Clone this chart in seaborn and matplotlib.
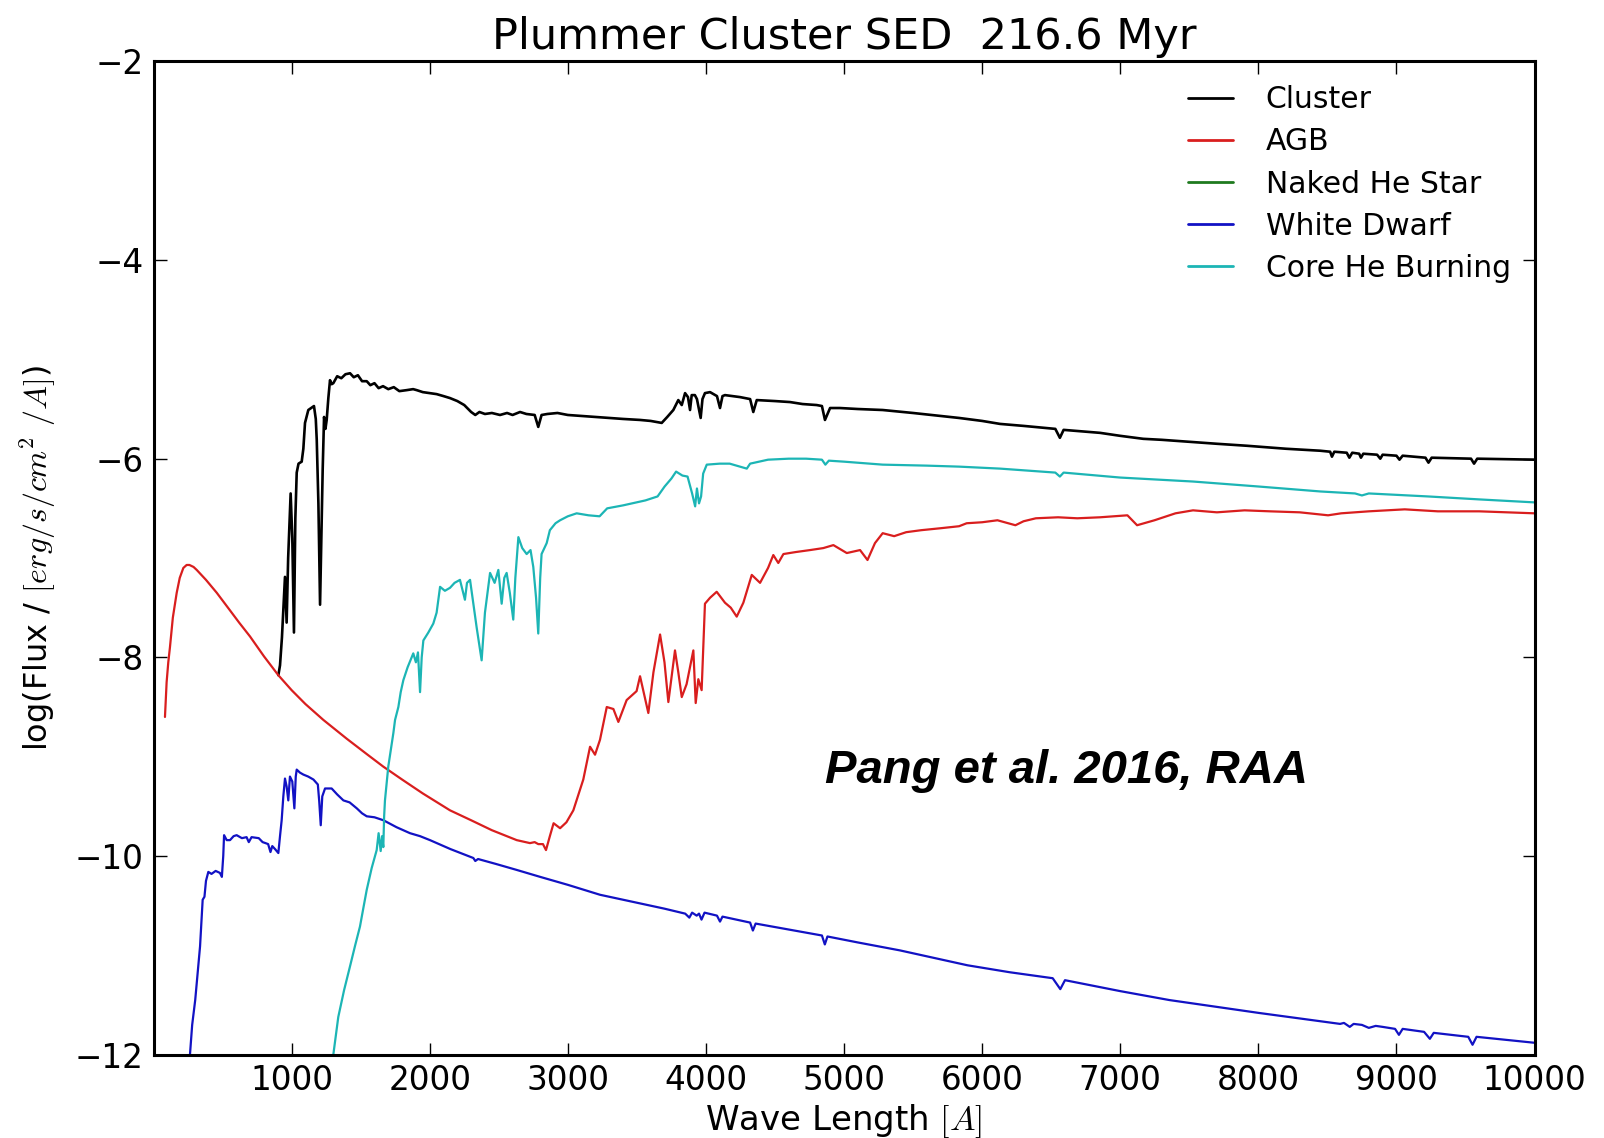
import matplotlib
matplotlib.use("Agg")
import matplotlib.pyplot as plt
import seaborn as sns
import pandas as pd

# ---- spectral energy distributions: wavelength [A], log flux ----
cluster_wave = [904, 916, 930, 952, 964, 975, 993, 1005, 1017, 1027, 1037, 1050, 1073, 1085,
                1097, 1121, 1162, 1175, 1182, 1194, 1206, 1215, 1225, 1235, 1245, 1254, 1266,
                1278, 1290, 1302, 1330, 1360, 1390, 1423, 1450, 1480, 1510, 1544, 1570, 1600,
                1630, 1662, 1700, 1740, 1780, 1833, 1880, 1906, 1950, 2000, 2050, 2100, 2147,
                2200, 2250, 2300, 2330, 2360, 2400, 2450, 2509, 2560, 2600, 2654, 2700, 2760,
                2786, 2810, 2852, 2925, 3000, 3100, 3202, 3300, 3400, 3523, 3600, 3680, 3720,
                3764, 3800, 3825, 3849, 3870, 3885, 3897, 3920, 3935, 3962, 3975, 3993, 4030,
                4080, 4102, 4120, 4138, 4247, 4320, 4343, 4368, 4500, 4609, 4700, 4802, 4840,
                4862, 4899, 4970, 5100, 5280, 5500, 5833, 6000, 6130, 6300, 6530, 6563, 6590,
                6854, 7000, 7166, 7300, 7500, 7700, 7918, 8200, 8449, 8520, 8533, 8550, 8640,
                8659, 8680, 8730, 8743, 8760, 8860, 8883, 8900, 9000, 9022, 9045, 9210, 9232,
                9255, 9540, 9562, 9585, 10000]
cluster_flux = [-8.18, -8.08, -7.80, -7.19, -7.65, -7.00, -6.35, -6.80, -7.75, -6.60, -6.14,
                -6.05, -6.03, -5.90, -5.64, -5.51, -5.47, -5.60, -5.81, -6.45, -7.47, -6.80,
                -6.11, -5.58, -5.70, -5.61, -5.39, -5.21, -5.25, -5.24, -5.17, -5.19, -5.15,
                -5.14, -5.18, -5.16, -5.22, -5.22, -5.26, -5.24, -5.29, -5.27, -5.30, -5.28,
                -5.32, -5.31, -5.30, -5.31, -5.33, -5.34, -5.35, -5.37, -5.39, -5.42, -5.46,
                -5.53, -5.56, -5.53, -5.55, -5.54, -5.56, -5.54, -5.56, -5.53, -5.55, -5.56,
                -5.68, -5.56, -5.55, -5.54, -5.56, -5.57, -5.58, -5.59, -5.60, -5.61, -5.62,
                -5.64, -5.58, -5.51, -5.41, -5.46, -5.34, -5.38, -5.51, -5.36, -5.36, -5.40,
                -5.59, -5.40, -5.34, -5.33, -5.37, -5.49, -5.37, -5.36, -5.38, -5.40, -5.53,
                -5.41, -5.42, -5.43, -5.45, -5.46, -5.47, -5.61, -5.49, -5.49, -5.50, -5.51,
                -5.54, -5.59, -5.62, -5.65, -5.67, -5.70, -5.79, -5.71, -5.74, -5.77, -5.80,
                -5.81, -5.83, -5.85, -5.87, -5.90, -5.92, -5.93, -5.98, -5.93, -5.94, -5.99,
                -5.94, -5.95, -5.99, -5.95, -5.96, -6.00, -5.96, -5.97, -6.01, -5.97, -5.99,
                -6.04, -5.99, -6.00, -6.05, -6.00, -6.01]

agb_wave = [83, 95, 107, 119, 140, 168, 190, 216, 240, 260, 290, 313, 380, 458, 550, 620, 699,
            800, 904, 1000, 1100, 1230, 1400, 1550, 1664, 1800, 1950, 2147, 2300, 2450, 2630,
            2726, 2760, 2786, 2820, 2842, 2870, 2897, 2944, 2990, 3040, 3112, 3161, 3197, 3233,
            3282, 3330, 3366, 3426, 3498, 3523, 3583, 3620, 3668, 3700, 3728, 3776, 3800, 3825,
            3860, 3909, 3926, 3945, 3969, 3993, 4030, 4078, 4138, 4180, 4223, 4271, 4332, 4392,
            4450, 4488, 4524, 4561, 4650, 4754, 4850, 4923, 5020, 5116, 5170, 5224, 5280, 5363,
            5450, 5558, 5700, 5833, 5888, 6000, 6111, 6241, 6300, 6389, 6550, 6689, 6854, 7052,
            7122, 7248, 7400, 7527, 7700, 7900, 8085, 8300, 8505, 8600, 8800, 9060, 9300, 9600,
            10000]
agb_flux = [-8.60, -8.25, -8.05, -7.90, -7.60, -7.35, -7.20, -7.10, -7.07, -7.07, -7.09, -7.12,
            -7.22, -7.35, -7.52, -7.65, -7.79, -7.99, -8.18, -8.33, -8.47, -8.63, -8.82, -8.98,
            -9.10, -9.23, -9.37, -9.54, -9.64, -9.74, -9.84, -9.87, -9.86, -9.88, -9.88, -9.94,
            -9.80, -9.67, -9.72, -9.66, -9.54, -9.23, -8.90, -8.98, -8.83, -8.50, -8.52, -8.65,
            -8.43, -8.34, -8.19, -8.56, -8.15, -7.77, -8.05, -8.45, -7.93, -8.15, -8.40, -8.27,
            -7.93, -8.46, -8.22, -8.33, -7.46, -7.40, -7.34, -7.45, -7.50, -7.59, -7.45, -7.17,
            -7.25, -7.10, -6.97, -7.05, -6.96, -6.94, -6.92, -6.90, -6.87, -6.95, -6.92, -7.02,
            -6.85, -6.75, -6.78, -6.74, -6.72, -6.70, -6.68, -6.65, -6.64, -6.62, -6.67, -6.63,
            -6.60, -6.59, -6.60, -6.59, -6.57, -6.67, -6.62, -6.55, -6.52, -6.54, -6.52, -6.53,
            -6.54, -6.57, -6.55, -6.53, -6.51, -6.53, -6.53, -6.55]

# no naked helium star contribution at this age
nakedhe_wave = []
nakedhe_flux = []

wd_wave = [255, 264, 280, 302, 337, 356, 369, 380, 397, 420, 450, 481, 495, 505, 511, 530, 554,
           580, 602, 640, 674, 690, 710, 762, 790, 811, 830, 847, 860, 880, 904, 916, 928, 940,
           952, 964, 976, 988, 1005, 1020, 1030, 1037, 1060, 1085, 1120, 1158, 1190, 1200, 1211,
           1222, 1242, 1290, 1330, 1375, 1420, 1472, 1510, 1544, 1600, 1665, 1760, 1857, 1930,
           2002, 2150, 2316, 2330, 2350, 2480, 2630, 2800, 3000, 3233, 3500, 3700, 3850, 3880,
           3900, 3933, 3950, 3968, 3990, 4080, 4102, 4120, 4320, 4340, 4360, 4600, 4840, 4861,
           4880, 5100, 5405, 5894, 6200, 6511, 6566, 6600, 7000, 7356, 8006, 8592, 8620, 8662,
           8690, 8750, 8800, 8850, 8900, 8990, 9018, 9045, 9200, 9242, 9270, 9520, 9551, 9580,
           10000]
wd_flux = [-12.10, -12.00, -11.70, -11.45, -10.91, -10.44, -10.41, -10.25, -10.16, -10.18,
           -10.15, -10.17, -10.21, -10.00, -9.79, -9.84, -9.84, -9.80, -9.79, -9.82, -9.81,
           -9.86, -9.81, -9.82, -9.86, -9.87, -9.88, -9.96, -9.90, -9.93, -9.97, -9.80, -9.64,
           -9.40, -9.22, -9.30, -9.44, -9.20, -9.25, -9.52, -9.20, -9.13, -9.16, -9.18, -9.20,
           -9.23, -9.28, -9.45, -9.69, -9.40, -9.32, -9.32, -9.38, -9.44, -9.46, -9.52, -9.57,
           -9.60, -9.61, -9.64, -9.71, -9.77, -9.80, -9.84, -9.93, -10.02, -10.05, -10.03,
           -10.08, -10.14, -10.21, -10.29, -10.39, -10.47, -10.53, -10.58, -10.62, -10.57,
           -10.60, -10.58, -10.64, -10.57, -10.60, -10.66, -10.61, -10.67, -10.75, -10.68,
           -10.74, -10.80, -10.89, -10.81, -10.87, -10.95, -11.10, -11.17, -11.23, -11.34,
           -11.25, -11.36, -11.45, -11.58, -11.69, -11.68, -11.72, -11.69, -11.70, -11.73,
           -11.71, -11.72, -11.74, -11.80, -11.74, -11.77, -11.84, -11.78, -11.82, -11.90,
           -11.82, -11.88]

corehe_wave = [1290, 1302, 1338, 1380, 1423, 1460, 1495, 1520, 1544, 1580, 1616, 1630, 1645,
               1655, 1664, 1670, 1676, 1700, 1737, 1749, 1773, 1790, 1809, 1840, 1881, 1900,
               1915, 1930, 1942, 1954, 1990, 2026, 2050, 2075, 2110, 2147, 2180, 2219, 2255,
               2270, 2292, 2310, 2340, 2376, 2400, 2437, 2470, 2497, 2521, 2540, 2557, 2580,
               2605, 2620, 2642, 2670, 2702, 2730, 2750, 2770, 2786, 2800, 2810, 2847, 2870,
               2911, 2944, 3000, 3064, 3150, 3230, 3285, 3400, 3562, 3650, 3701, 3750, 3784,
               3830, 3867, 3900, 3922, 3935, 3950, 3965, 3980, 4006, 4100, 4172, 4296, 4320,
               4450, 4600, 4725, 4840, 4865, 4890, 5000, 5280, 5600, 5833, 6130, 6530, 6563,
               6590, 7000, 7527, 8000, 8449, 8700, 8750, 8800, 9227, 9600, 10000]
corehe_flux = [-12.10, -12.00, -11.62, -11.35, -11.11, -10.90, -10.71, -10.52, -10.34, -10.12,
               -9.94, -9.77, -9.95, -9.80, -9.91, -9.60, -9.44, -9.10, -8.76, -8.63, -8.50,
               -8.35, -8.23, -8.10, -7.96, -8.05, -7.95, -8.35, -8.00, -7.83, -7.75, -7.66,
               -7.55, -7.29, -7.33, -7.30, -7.25, -7.22, -7.42, -7.25, -7.22, -7.40, -7.70,
               -8.03, -7.55, -7.15, -7.25, -7.12, -7.46, -7.20, -7.15, -7.35, -7.62, -7.20,
               -6.79, -6.90, -6.96, -6.92, -7.09, -7.40, -7.76, -7.20, -6.96, -6.85, -6.72,
               -6.65, -6.62, -6.58, -6.55, -6.57, -6.58, -6.50, -6.47, -6.42, -6.38, -6.28,
               -6.20, -6.13, -6.17, -6.18, -6.35, -6.48, -6.30, -6.45, -6.38, -6.15, -6.06,
               -6.05, -6.05, -6.10, -6.05, -6.01, -6.00, -6.00, -6.01, -6.06, -6.02, -6.03,
               -6.06, -6.07, -6.08, -6.10, -6.14, -6.18, -6.14, -6.19, -6.23, -6.28, -6.33,
               -6.35, -6.37, -6.35, -6.38, -6.41, -6.44]

x_ticks = [1000, 2000, 3000, 4000, 5000, 6000, 7000, 8000, 9000, 10000]
y_ticks = [-12, -10, -8, -6, -4, -2]

series = [
    ("Cluster", cluster_wave, cluster_flux, "#000000", 1.9),
    ("AGB", agb_wave, agb_flux, "#d91e1e", 1.6),
    ("Naked He Star", nakedhe_wave, nakedhe_flux, "#1f7a1f", 1.6),
    ("White Dwarf", wd_wave, wd_flux, "#1212c4", 1.6),
    ("Core He Burning", corehe_wave, corehe_flux, "#1cb5b5", 1.6),
]

sns.set_theme(style="ticks")
plt.rcParams["font.family"] = ["DejaVu Sans"]
plt.rcParams["mathtext.fontset"] = "cm"
plt.rcParams["axes.unicode_minus"] = True
plt.rcParams["text.color"] = "black"
plt.rcParams["axes.labelcolor"] = "black"

fig = plt.figure(figsize=(16.04, 11.38), dpi=100)
ax = fig.add_axes([0.0957, 0.0732, 0.8610, 0.8729])

for name, wave, flux, color, lw in series:
    if len(wave):
        df = pd.DataFrame({"wave": wave, "flux": flux})
        sns.lineplot(data=df, x="wave", y="flux", color=color, label=name,
                     sort=False, estimator=None, linewidth=lw, ax=ax)
    else:
        ax.plot([], [], color=color, linewidth=lw, label=name)

ax.set_xlim(0, 10000)
ax.set_ylim(-12, -2)
ax.set_xticks(x_ticks)
ax.set_yticks(y_ticks)
ax.tick_params(direction="in", top=True, right=True, length=9, width=1,
               labelsize=23.5, pad=7, colors="black")
for sp in ax.spines.values():
    sp.set_linewidth(2.2)
    sp.set_color("black")

ax.set_title("Plummer Cluster SED  216.6 Myr", fontsize=31, pad=9, color="black")
ax.set_xlabel(r"Wave Length $[A]$", fontsize=24.5, labelpad=3)
ax.set_ylabel(r"log(Flux / $[erg/s/cm^2\ /A]$)", fontsize=23, labelpad=12)

ax.text(4860, -9.26, "Pang et al. 2016, RAA", fontsize=34, fontweight="bold",
        fontstyle="italic", family="Liberation Sans", ha="left", va="baseline",
        color="black")

leg = ax.legend(loc="upper right", frameon=False, fontsize=21.5, handlelength=1.5,
                handletextpad=1.1, labelspacing=0.44, borderaxespad=0.4)
for line in leg.get_lines():
    line.set_linewidth(2.0)
for t in leg.get_texts():
    t.set_color("black")

fig.savefig("out.png", dpi=100, facecolor="white")
